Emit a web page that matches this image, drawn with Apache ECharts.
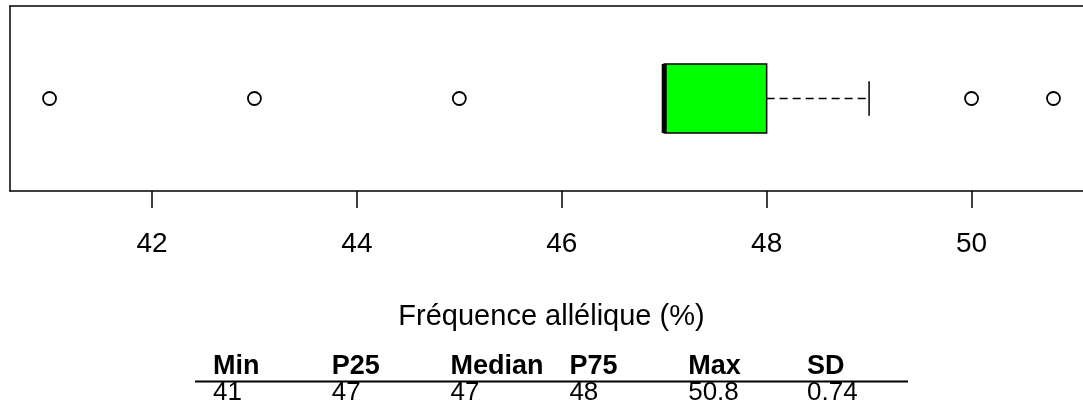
<!DOCTYPE html>
<html><head><meta charset="utf-8">
<script src="https://cdn.jsdelivr.net/npm/echarts@6/dist/echarts.min.js"></script>
<style>html,body{margin:0;padding:0;background:#fff}#c{width:1083px;height:403px}</style>
</head><body><div id="c"></div>
<script>
const categories = ['Fréquence'];
// lower whisker, Q1, median, Q3, upper whisker
const boxStats = [47, 47, 47, 48, 49];
const outliers = [41, 43, 45, 50, 50.8];
const tickValues = [42, 44, 46, 48, 50];
const axisTitle = 'Fréquence allélique (%)';
const tableHeaders = ['Min', 'P25', 'Median', 'P75', 'Max', 'SD'];
const tableValues = ['41', '47', '47', '48', '50.8', '0.74'];
// visible part of the x range (plot region runs past the right edge of the picture)
const xMin = 40.614, xMax = 51.088;

const FONT = '"Liberation Sans", Arial, sans-serif';
const chart = echarts.init(document.getElementById('c'), null, {renderer: 'canvas'});

function renderBox(params, api) {
  const cat = api.value(0);
  const lw = api.value(1), q1 = api.value(2), med = api.value(3), q3 = api.value(4), uw = api.value(5);
  const band = api.size([0, 1])[1];
  const half = band * 0.1865;
  const capHalf = half / 2;
  const pLw = api.coord([lw, cat]), pQ1 = api.coord([q1, cat]), pMed = api.coord([med, cat]),
        pQ3 = api.coord([q3, cat]), pUw = api.coord([uw, cat]);
  const cy = pQ1[1];
  const ls = {stroke: '#000', lineWidth: 1.5};
  return {
    type: 'group',
    children: [
      {type: 'line', shape: {x1: pQ3[0], y1: cy, x2: pUw[0], y2: cy}, style: Object.assign({lineDash: [8, 5]}, ls)},
      {type: 'line', shape: {x1: pLw[0], y1: cy, x2: pQ1[0], y2: cy}, style: Object.assign({lineDash: [8, 5]}, ls)},
      {type: 'line', shape: {x1: pUw[0], y1: cy - capHalf, x2: pUw[0], y2: cy + capHalf}, style: ls},
      {type: 'line', shape: {x1: pLw[0], y1: cy - capHalf, x2: pLw[0], y2: cy + capHalf}, style: ls},
      {type: 'rect', shape: {x: pQ1[0], y: cy - half, width: pQ3[0] - pQ1[0], height: 2 * half},
       style: {fill: '#00ff00', stroke: '#000', lineWidth: 1.5}},
      {type: 'line', shape: {x1: pMed[0], y1: cy - half, x2: pMed[0], y2: cy + half},
       style: {stroke: '#000', lineWidth: 5}}
    ]
  };
}

const colX0 = 213, colStep = 118.8;
const graphics = [
  {type: 'line', shape: {x1: 195, y1: 381.5, x2: 908, y2: 381.5}, style: {stroke: '#000', lineWidth: 2}}
];
tableHeaders.forEach((h, i) => {
  graphics.push({type: 'text', x: colX0 + i * colStep, y: 353,
    style: {text: h, font: 'bold 27px ' + FONT, fill: '#000', textVerticalAlign: 'top', textAlign: 'left'}});
});
tableValues.forEach((v, i) => {
  graphics.push({type: 'text', x: colX0 + i * colStep, y: 380,
    style: {text: v, font: '26px ' + FONT, fill: '#000', textVerticalAlign: 'top', textAlign: 'left'}});
});

const frameLine = {show: true, onZero: false, lineStyle: {color: '#000', width: 1.5}};

chart.setOption({
  animation: false,
  backgroundColor: '#fff',
  grid: {left: 10, top: 6, right: 0, height: 185, show: false},
  xAxis: [{
    type: 'value', min: xMin, max: xMax, position: 'bottom',
    splitLine: {show: false},
    axisLine: frameLine,
    axisTick: {show: true, customValues: tickValues, length: 17, lineStyle: {color: '#000', width: 1.5}},
    axisLabel: {show: true, customValues: tickValues, fontSize: 28, fontFamily: FONT, color: '#000', margin: 39},
    name: axisTitle, nameLocation: 'middle', nameGap: 111,
    nameTextStyle: {fontSize: 29, fontFamily: FONT, color: '#000', padding: [0, 0, 0, 10]}
  }, {
    type: 'value', min: xMin, max: xMax, position: 'top',
    splitLine: {show: false}, axisLine: frameLine, axisTick: {show: false}, axisLabel: {show: false}
  }],
  yAxis: {
    type: 'category', data: categories, position: 'left',
    axisLine: frameLine, axisTick: {show: false}, axisLabel: {show: false}, splitLine: {show: false}
  },
  series: [
    {
      type: 'custom', renderItem: renderBox, clip: false, xAxisIndex: 0,
      encode: {x: [1, 2, 3, 4, 5], y: 0},
      data: [[0].concat(boxStats)]
    },
    {
      type: 'scatter', symbol: 'circle', symbolSize: 13, z: 5, xAxisIndex: 0,
      itemStyle: {color: '#fff', borderColor: '#000', borderWidth: 1.8, opacity: 1},
      data: outliers.map(v => [v, 0])
    }
  ],
  graphic: graphics
});
</script></body></html>
